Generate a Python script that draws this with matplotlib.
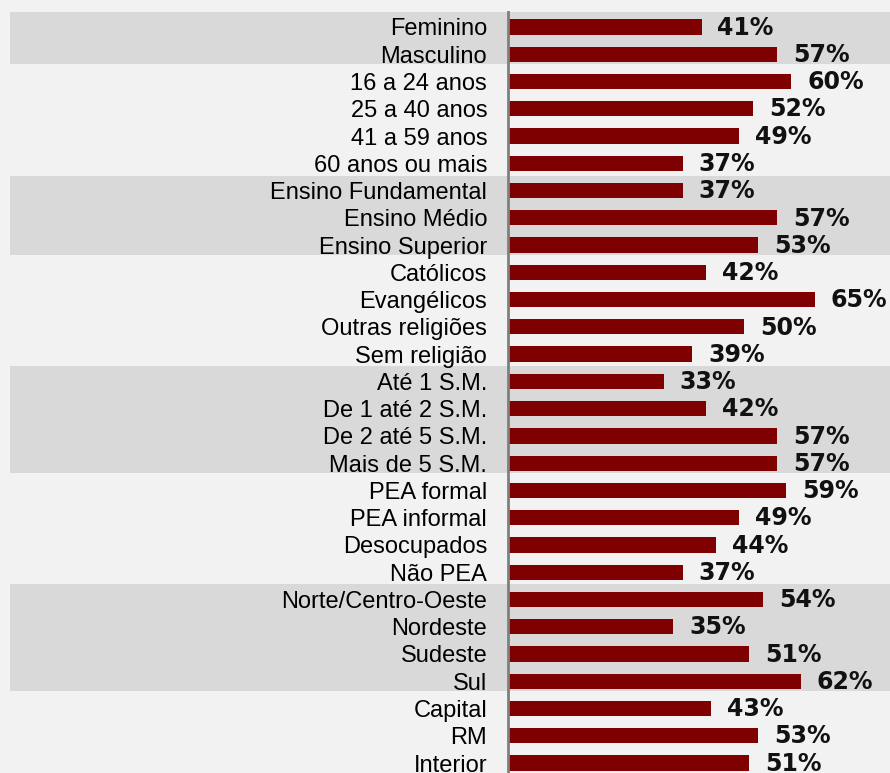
import numpy as np
import matplotlib.pyplot as plt

categorias = ['Feminino', 'Masculino',
              '16 a 24 anos', '25 a 40 anos', '41 a 59 anos', '60 anos ou mais',
              'Ensino Fundamental', 'Ensino Médio', 'Ensino Superior',
              'Católicos', 'Evangélicos', 'Outras religiões', 'Sem religião',
              'Até 1 S.M.', 'De 1 até 2 S.M.', 'De 2 até 5 S.M.', 'Mais de 5 S.M.',
              'PEA formal', 'PEA informal', 'Desocupados', 'Não PEA',
              'Norte/Centro-Oeste', 'Nordeste', 'Sudeste', 'Sul',
              'Capital', 'RM', 'Interior']
valores = [41, 57,
           60, 52, 49, 37,
           37, 57, 53,
           42, 65, 50, 39,
           33, 42, 57, 57,
           59, 49, 44, 37,
           54, 35, 51, 62,
           43, 53, 51]
# grupos com faixa cinza (primeira e ultima linha)
grupos_cinza = [(0, 1), (6, 8), (13, 16), (21, 24)]

fundo = '#f2f2f2'
faixa = '#d9d9d9'
cor_barra = '#7f0000'

fig = plt.figure(figsize=(8.9, 7.73), dpi=100, facecolor=fundo)
ax = fig.add_axes([508 / 890, 0, 1 - 508 / 890, 1])
ax.set_facecolor('none')

y = np.arange(len(categorias))
ax.barh(y, valores, height=0.56, color=cor_barra, zorder=3)

ax.set_xlim(0, 382 / 4.72)
ax.set_ylim(27 + 10 / 27.26, -27 / 27.26)

# faixas cinza que atravessam a figura toda
x0 = -(508 - 10) / 382
for ini, fim in grupos_cinza:
    ax.axhspan(ini - 0.55, fim + 0.35, xmin=x0, xmax=1, color=faixa,
               clip_on=False, zorder=0, lw=0)

for s in ['top', 'right', 'bottom']:
    ax.spines[s].set_visible(False)
ax.spines['left'].set_color('#7f7f7f')
ax.spines['left'].set_linewidth(2)
ax.spines['left'].set_bounds(-0.55, 28)
ax.spines['left'].set_zorder(4)

ax.set_xticks([])
ax.set_yticks(y)
ax.set_yticklabels(categorias, fontsize=17, family='Liberation Sans')
ax.tick_params(axis='y', length=0, pad=15)

for yi, v in zip(y, valores):
    ax.annotate(f'{v}%', xy=(v, yi), xytext=(11.5, -0.5), textcoords='offset points',
                ha='left', va='center', fontsize=17, fontweight='bold',
                family='DejaVu Sans', color='#111111', zorder=5,
                annotation_clip=False)

fig.savefig('out.png', facecolor=fundo)
